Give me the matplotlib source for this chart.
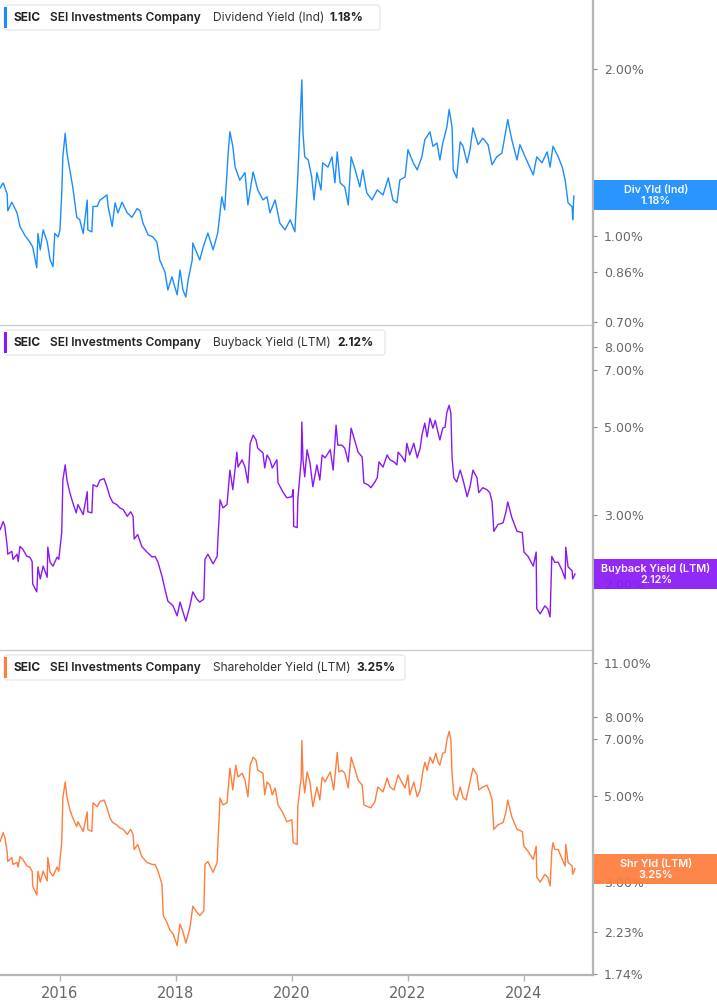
import matplotlib
matplotlib.use("Agg")
import matplotlib.pyplot as plt
from matplotlib.patches import FancyBboxPatch, Rectangle
from matplotlib.ticker import FixedLocator, FixedFormatter, NullLocator

# ---------------- data (decimal year, percent) ----------------
div_dates = [2014.97, 2015.02, 2015.09, 2015.10, 2015.17, 2015.26, 2015.31, 2015.40, 2015.48, 2015.53,
             2015.60, 2015.62, 2015.66, 2015.71, 2015.78, 2015.83, 2015.88, 2015.91, 2015.97, 2016.00,
             2016.03, 2016.05, 2016.09, 2016.12, 2016.17, 2016.22, 2016.29, 2016.34, 2016.40, 2016.47,
             2016.48, 2016.55, 2016.57, 2016.64, 2016.69, 2016.81, 2016.83, 2016.90, 2016.95, 2017.00,
             2017.07, 2017.16, 2017.24, 2017.33, 2017.38, 2017.43, 2017.52, 2017.60, 2017.67, 2017.72,
             2017.81, 2017.86, 2017.93, 2018.02, 2018.07, 2018.12, 2018.17, 2018.21, 2018.28, 2018.29,
             2018.36, 2018.41, 2018.47, 2018.55, 2018.64, 2018.72, 2018.79, 2018.84, 2018.90, 2018.93,
             2018.98, 2019.02, 2019.10, 2019.19, 2019.24, 2019.33, 2019.41, 2019.50, 2019.57, 2019.62,
             2019.71, 2019.79, 2019.88, 2019.97, 2020.05, 2020.10, 2020.17, 2020.19, 2020.22, 2020.28,
             2020.34, 2020.38, 2020.43, 2020.50, 2020.53, 2020.62, 2020.69, 2020.74, 2020.78, 2020.83,
             2020.91, 2020.97, 2021.02, 2021.09, 2021.17, 2021.22, 2021.29, 2021.38, 2021.47, 2021.57,
             2021.66, 2021.74, 2021.81, 2021.86, 2021.95, 2022.00, 2022.09, 2022.16, 2022.24, 2022.29,
             2022.38, 2022.43, 2022.50, 2022.55, 2022.60, 2022.67, 2022.71, 2022.76, 2022.78, 2022.84,
             2022.90, 2022.95, 2023.02, 2023.07, 2023.12, 2023.21, 2023.29, 2023.38, 2023.45, 2023.53,
             2023.62, 2023.67, 2023.72, 2023.79, 2023.88, 2023.93, 2024.02, 2024.10, 2024.16, 2024.22,
             2024.31, 2024.40, 2024.45, 2024.50, 2024.59, 2024.66, 2024.71, 2024.76, 2024.83, 2024.84,
             2024.86]
div_yield = [1.22, 1.246, 1.19, 1.11, 1.15, 1.10, 1.04, 1.00, 0.975, 0.955,
             0.876, 1.01, 0.944, 1.025, 0.975, 0.905, 0.88, 1.01, 0.996, 1.025,
             1.19, 1.39, 1.53, 1.41, 1.315, 1.225, 1.08, 1.07, 1.01, 1.16,
             1.025, 1.017, 1.13, 1.13, 1.16, 1.185, 1.13, 1.04, 1.147, 1.10,
             1.15, 1.10, 1.08, 1.12, 1.11, 1.055, 1.004, 0.996, 0.975, 0.905,
             0.861, 0.799, 0.844, 0.783, 0.868, 0.799, 0.776, 0.833, 0.905, 0.971,
             0.932, 0.905, 0.955, 1.012, 0.944, 1.012, 1.176, 1.114, 1.41, 1.54,
             1.45, 1.33, 1.26, 1.30, 1.137, 1.304, 1.21, 1.161, 1.176, 1.10,
             1.161, 1.055, 1.025, 1.069, 1.017, 1.277, 1.91, 1.53, 1.388, 1.37,
             1.277, 1.161, 1.30, 1.21, 1.354, 1.33, 1.388, 1.246, 1.417, 1.246,
             1.225, 1.137, 1.388, 1.315, 1.225, 1.315, 1.195, 1.161, 1.21, 1.185,
             1.272, 1.161, 1.147, 1.261, 1.277, 1.43, 1.354, 1.315, 1.388, 1.49,
             1.54, 1.45, 1.47, 1.37, 1.47, 1.57, 1.69, 1.57, 1.315, 1.272,
             1.477, 1.45, 1.354, 1.43, 1.565, 1.46, 1.50, 1.46, 1.343, 1.388,
             1.41, 1.51, 1.62, 1.49, 1.37, 1.46, 1.388, 1.33, 1.288, 1.388,
             1.354, 1.417, 1.33, 1.45, 1.388, 1.33, 1.261, 1.147, 1.128, 1.069,
             1.18]

bb_dates = [2014.97, 2015.02, 2015.05, 2015.09, 2015.10, 2015.17, 2015.19, 2015.26, 2015.28, 2015.31,
            2015.36, 2015.43, 2015.48, 2015.52, 2015.53, 2015.60, 2015.62, 2015.66, 2015.71, 2015.78,
            2015.79, 2015.83, 2015.88, 2015.95, 2015.98, 2016.03, 2016.05, 2016.09, 2016.12, 2016.17,
            2016.22, 2016.28, 2016.31, 2016.40, 2016.47, 2016.48, 2016.55, 2016.57, 2016.64, 2016.69,
            2016.76, 2016.81, 2016.86, 2016.91, 2016.98, 2017.03, 2017.09, 2017.16, 2017.22, 2017.26,
            2017.28, 2017.34, 2017.41, 2017.50, 2017.59, 2017.64, 2017.69, 2017.76, 2017.81, 2017.86,
            2017.95, 2018.02, 2018.07, 2018.12, 2018.17, 2018.24, 2018.29, 2018.36, 2018.41, 2018.48,
            2018.50, 2018.55, 2018.64, 2018.71, 2018.72, 2018.76, 2018.81, 2018.88, 2018.93, 2018.98,
            2019.05, 2019.07, 2019.14, 2019.19, 2019.24, 2019.28, 2019.33, 2019.38, 2019.41, 2019.50,
            2019.53, 2019.57, 2019.62, 2019.66, 2019.74, 2019.76, 2019.84, 2019.91, 2020.00, 2020.02,
            2020.03, 2020.09, 2020.10, 2020.16, 2020.17, 2020.19, 2020.22, 2020.26, 2020.31, 2020.36,
            2020.43, 2020.48, 2020.52, 2020.57, 2020.66, 2020.71, 2020.76, 2020.79, 2020.86, 2020.91,
            2020.97, 2021.02, 2021.09, 2021.14, 2021.21, 2021.24, 2021.31, 2021.36, 2021.43, 2021.47,
            2021.50, 2021.57, 2021.64, 2021.69, 2021.76, 2021.81, 2021.83, 2021.90, 2021.95, 2021.98,
            2022.03, 2022.10, 2022.16, 2022.21, 2022.24, 2022.29, 2022.33, 2022.38, 2022.43, 2022.47,
            2022.52, 2022.55, 2022.60, 2022.64, 2022.67, 2022.71, 2022.74, 2022.76, 2022.79, 2022.84,
            2022.90, 2022.95, 2023.02, 2023.07, 2023.12, 2023.19, 2023.22, 2023.29, 2023.36, 2023.41,
            2023.45, 2023.48, 2023.55, 2023.64, 2023.69, 2023.72, 2023.79, 2023.88, 2023.97, 2024.00,
            2024.07, 2024.16, 2024.21, 2024.22, 2024.28, 2024.36, 2024.41, 2024.45, 2024.48, 2024.53,
            2024.59, 2024.66, 2024.71, 2024.72, 2024.76, 2024.83, 2024.84, 2024.88]
bb_yield = [2.75, 2.88, 2.80, 2.49, 2.38, 2.42, 2.31, 2.38, 2.28, 2.49,
            2.45, 2.35, 2.34, 2.28, 2.00, 1.91, 2.21, 2.06, 2.22, 2.08,
            2.48, 2.27, 2.22, 2.34, 2.31, 2.70, 3.67, 4.01, 3.67, 3.41,
            3.22, 3.03, 3.18, 3.00, 3.43, 3.05, 3.03, 3.57, 3.53, 3.67,
            3.70, 3.53, 3.33, 3.22, 3.18, 3.12, 3.09, 2.97, 3.05, 2.97,
            2.60, 2.67, 2.49, 2.41, 2.34, 2.35, 2.27, 2.09, 1.94, 1.81,
            1.76, 1.66, 1.80, 1.70, 1.61, 1.76, 1.91, 1.83, 1.80, 1.83,
            2.31, 2.38, 2.25, 2.35, 2.55, 3.27, 3.12, 3.18, 3.89, 3.47,
            4.32, 3.96, 4.13, 3.96, 3.61, 4.55, 4.77, 4.64, 4.42, 4.30,
            3.94, 4.25, 4.13, 3.94, 4.13, 3.61, 3.43, 3.31, 3.33, 3.47,
            2.80, 2.78, 3.27, 4.13, 5.15, 4.13, 3.74, 4.38, 4.06, 3.53,
            4.01, 3.67, 4.25, 4.18, 4.38, 3.89, 5.06, 4.50, 4.50, 4.42,
            4.08, 4.97, 4.58, 4.32, 4.20, 3.61, 3.57, 3.51, 3.63, 3.72,
            4.08, 3.96, 4.25, 4.13, 4.08, 4.01, 4.32, 4.20, 4.08, 4.55,
            4.25, 4.55, 4.18, 4.42, 4.77, 5.12, 4.72, 5.27, 4.97, 5.20,
            4.83, 4.64, 4.97, 5.00, 5.45, 5.68, 5.42, 4.18, 3.72, 3.63,
            3.89, 3.67, 3.33, 3.53, 3.89, 3.72, 3.41, 3.51, 3.47, 3.41,
            3.23, 2.72, 2.83, 2.86, 3.05, 3.23, 2.95, 2.72, 2.70, 2.41,
            2.35, 2.22, 2.41, 1.73, 1.68, 1.76, 1.73, 1.65, 2.35, 2.27,
            2.27, 2.16, 2.06, 2.48, 2.21, 2.16, 2.06, 2.12]

sh_dates = [2014.97, 2015.02, 2015.05, 2015.09, 2015.10, 2015.17, 2015.19, 2015.26, 2015.28, 2015.31,
            2015.36, 2015.43, 2015.48, 2015.52, 2015.53, 2015.60, 2015.62, 2015.66, 2015.71, 2015.78,
            2015.79, 2015.83, 2015.88, 2015.95, 2015.98, 2016.03, 2016.05, 2016.09, 2016.12, 2016.17,
            2016.22, 2016.29, 2016.31, 2016.40, 2016.47, 2016.48, 2016.55, 2016.57, 2016.64, 2016.69,
            2016.76, 2016.81, 2016.86, 2016.91, 2016.98, 2017.03, 2017.09, 2017.16, 2017.22, 2017.26,
            2017.28, 2017.34, 2017.41, 2017.50, 2017.59, 2017.64, 2017.69, 2017.76, 2017.78, 2017.84,
            2017.90, 2017.95, 2018.02, 2018.07, 2018.12, 2018.17, 2018.24, 2018.29, 2018.36, 2018.41,
            2018.48, 2018.50, 2018.55, 2018.64, 2018.71, 2018.72, 2018.76, 2018.81, 2018.88, 2018.93,
            2018.98, 2019.03, 2019.07, 2019.14, 2019.19, 2019.24, 2019.28, 2019.33, 2019.38, 2019.41,
            2019.50, 2019.53, 2019.57, 2019.62, 2019.66, 2019.71, 2019.76, 2019.84, 2019.91, 2020.00,
            2020.02, 2020.09, 2020.10, 2020.16, 2020.17, 2020.19, 2020.22, 2020.26, 2020.31, 2020.36,
            2020.43, 2020.48, 2020.52, 2020.57, 2020.66, 2020.72, 2020.78, 2020.81, 2020.86, 2020.91,
            2020.97, 2021.02, 2021.09, 2021.14, 2021.21, 2021.24, 2021.31, 2021.36, 2021.43, 2021.48,
            2021.57, 2021.64, 2021.69, 2021.76, 2021.83, 2021.90, 2021.95, 2022.00, 2022.03, 2022.10,
            2022.16, 2022.21, 2022.26, 2022.29, 2022.33, 2022.38, 2022.43, 2022.48, 2022.52, 2022.55,
            2022.60, 2022.64, 2022.67, 2022.71, 2022.74, 2022.76, 2022.79, 2022.84, 2022.90, 2022.95,
            2023.00, 2023.07, 2023.12, 2023.19, 2023.22, 2023.29, 2023.36, 2023.41, 2023.45, 2023.48,
            2023.55, 2023.64, 2023.69, 2023.72, 2023.79, 2023.88, 2023.97, 2024.00, 2024.07, 2024.16,
            2024.21, 2024.22, 2024.28, 2024.36, 2024.41, 2024.45, 2024.48, 2024.50, 2024.53, 2024.59,
            2024.66, 2024.71, 2024.72, 2024.76, 2024.83, 2024.84, 2024.88]
sh_yield = [3.82, 4.02, 3.91, 3.58, 3.39, 3.47, 3.33, 3.37, 3.28, 3.49,
            3.43, 3.30, 3.28, 3.20, 2.93, 2.78, 3.20, 3.00, 3.20, 3.02,
            3.47, 3.18, 3.11, 3.28, 3.20, 3.79, 4.94, 5.43, 4.97, 4.61,
            4.39, 4.17, 4.29, 4.05, 4.55, 4.10, 4.05, 4.80, 4.69, 4.83,
            4.88, 4.66, 4.39, 4.27, 4.21, 4.14, 4.10, 3.98, 4.10, 3.98,
            3.64, 3.75, 3.49, 3.37, 3.33, 3.33, 3.20, 2.96, 2.46, 2.37,
            2.25, 2.21, 2.06, 2.34, 2.24, 2.09, 2.28, 2.60, 2.51, 2.46,
            2.53, 3.33, 3.39, 3.18, 3.37, 3.68, 4.94, 4.74, 4.80, 5.89,
            5.18, 6.00, 5.59, 5.72, 5.49, 4.97, 6.00, 6.29, 6.18, 5.82,
            5.72, 5.03, 5.43, 5.33, 5.03, 5.24, 4.74, 4.53, 4.29, 4.34,
            3.79, 3.75, 4.69, 5.59, 6.95, 5.59, 5.09, 5.76, 5.43, 4.69,
            5.27, 4.88, 5.59, 5.43, 5.76, 5.18, 6.47, 5.76, 5.82, 5.72,
            5.24, 6.29, 5.82, 5.49, 5.33, 4.74, 4.69, 4.66, 4.83, 5.27,
            5.12, 5.56, 5.27, 5.18, 5.66, 5.40, 5.24, 5.66, 5.03, 5.43,
            4.97, 5.18, 5.82, 6.10, 5.82, 6.29, 6.07, 6.44, 6.10, 6.00,
            6.44, 6.47, 6.95, 7.33, 6.95, 5.72, 5.03, 4.88, 5.27, 4.94,
            4.88, 5.43, 5.89, 5.66, 5.18, 5.27, 5.33, 5.12, 4.88, 4.10,
            4.21, 4.27, 4.55, 4.88, 4.42, 4.10, 4.05, 3.71, 3.60, 3.43,
            3.71, 3.09, 3.00, 3.14, 3.09, 2.93, 3.60, 3.79, 3.64, 3.64,
            3.43, 3.30, 3.75, 3.37, 3.30, 3.14, 3.25]

ticker = "SEIC"
company = "SEI Investments Company"
metrics = ["Dividend Yield (Ind)", "Buyback Yield (LTM)", "Shareholder Yield (LTM)"]
short_names = ["Div Yld (Ind)", "Buyback Yield (LTM)", "Shr Yld (LTM)"]
ytick_values = [[2.00, 1.00, 0.86, 0.70],
                [8.00, 7.00, 5.00, 3.00, 2.00],
                [11.00, 8.00, 7.00, 5.00, 3.00, 2.23, 1.74]]
year_ticks = [2016, 2018, 2020, 2022, 2024]

# ---------------- styling / layout ----------------
W, H = 717, 1005
colors = ["#1a8cff", "#8a18f5", "#ff7d3d"]
ylims = [(0.691, 2.66), (1.36, 9.08), (1.73, 11.87)]
xlim = (2014.966, 2025.19)
panel_px = [(0, 325), (325, 650), (650, 975)]
axis_right_px = 593
header_widths = [376, 381, 401]
metric_value_x = [330, 337, 356]
label_box_px = [(180, 210), (559, 589), (854, 884)]

fig = plt.figure(figsize=(W / 100, H / 100), dpi=100)
fig.patch.set_facecolor("white")

series = [(div_dates, div_yield), (bb_dates, bb_yield), (sh_dates, sh_yield)]
axes = []
for i, ((d, v), (top, bot)) in enumerate(zip(series, panel_px)):
    ax = fig.add_axes([0, 1 - bot / H, axis_right_px / W, (bot - top) / H])
    ax.plot(d, v, color=colors[i], lw=1.0, solid_joinstyle="round")
    ax.set_yscale("log")
    ax.set_ylim(*ylims[i])
    ax.set_xlim(*xlim)
    ax.yaxis.tick_right()
    ax.yaxis.set_major_locator(FixedLocator(ytick_values[i]))
    ax.yaxis.set_major_formatter(FixedFormatter([f"{t:.2f}%" for t in ytick_values[i]]))
    ax.yaxis.set_minor_locator(NullLocator())
    ax.tick_params(axis="y", which="major", direction="out", length=3, width=0.8,
                   color="#888888", labelcolor="#666666", labelsize=9, pad=5)
    for s in ["top", "left"]:
        ax.spines[s].set_visible(False)
    ax.spines["right"].set_color("#b5b5b5")
    ax.spines["right"].set_linewidth(1.6)
    ax.spines["bottom"].set_color("#cccccc" if i < 2 else "#b5b5b5")
    ax.spines["bottom"].set_linewidth(1.0 if i < 2 else 1.6)
    if i < 2:
        ax.set_xticks([])
    else:
        ax.set_xticks(year_ticks)
        ax.set_xticklabels([str(y) for y in year_ticks])
        ax.tick_params(axis="x", direction="out", length=4, width=1, color="#b5b5b5",
                       labelcolor="#666666", labelsize=10.5, pad=4)
        for lab in ax.get_xticklabels():
            lab.set_fontfamily(["Liberation Sans Narrow", "DejaVu Sans"])
    ax.patch.set_alpha(0)
    axes.append(ax)

# overlay for headers and value labels
ov = fig.add_axes([0, 0, 1, 1], zorder=10)
ov.set_xlim(0, W)
ov.set_ylim(H, 0)
ov.axis("off")
ov.patch.set_alpha(0)

fam = ["Inter", "DejaVu Sans"]
for i, (top, bot) in enumerate(panel_px):
    by = top + 5
    ov.add_patch(FancyBboxPatch((4, by), header_widths[i], 25,
                                boxstyle="round,pad=0,rounding_size=3",
                                fc="white", ec="#e4e4e4", lw=0.8))
    ov.add_patch(Rectangle((4, by + 2), 3, 21, fc=colors[i], ec="none"))
    cy = by + 12.5
    ov.text(13, cy, ticker, fontsize=8.6, fontweight="bold", color="#222222",
            va="center", ha="left", family=fam)
    ov.text(50, cy, company, fontsize=8.6, fontweight="semibold", color="#222222",
            va="center", ha="left", family=fam)
    ov.text(213, cy, metrics[i], fontsize=8.6, color="#333333",
            va="center", ha="left", family=fam)
    last = series[i][1][-1]
    ov.text(metric_value_x[i], cy, f"{last:.2f}%", fontsize=8.6, fontweight="bold",
            color="#222222", va="center", ha="left", family=fam)

    y0, y1 = label_box_px[i]
    ov.add_patch(Rectangle((axis_right_px + 1, y0), W - axis_right_px - 1, y1 - y0,
                           fc=colors[i], ec="none", alpha=0.93))
    xc = (axis_right_px + W) / 2 + 1
    ov.text(xc, y0 + 9.5, short_names[i], fontsize=7.8, fontweight="semibold",
            color="white", ha="center", va="center", family=fam)
    ov.text(xc, y0 + 21, f"{last:.2f}%", fontsize=7.8, fontweight="semibold",
            color="white", ha="center", va="center", family=fam)

fig.savefig("out.png", dpi=100, facecolor="white")
